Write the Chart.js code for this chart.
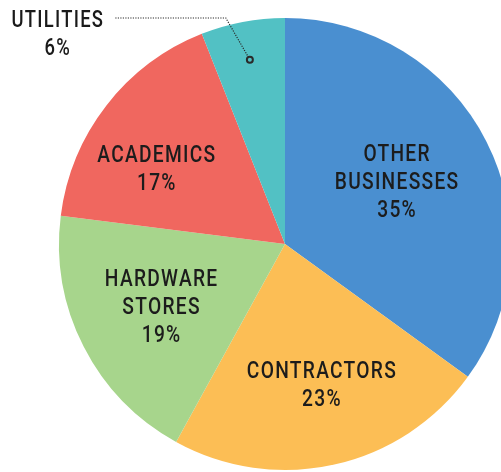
<!DOCTYPE html>
<html>
<head>
<meta charset="utf-8">
<script src="https://cdn.jsdelivr.net/npm/chart.js@4.4.1/dist/chart.umd.min.js"></script>
<style>
  html, body { margin: 0; padding: 0; background: #ffffff; overflow: hidden; }
  #wrap { position: relative; width: 530px; height: 472px; }
</style>
</head>
<body>
<div id="wrap"><canvas id="pie"></canvas></div>
<script>
// Customer segments and their share of sales (percent)
const segments = ['OTHER BUSINESSES', 'CONTRACTORS', 'HARDWARE STORES', 'ACADEMICS', 'UTILITIES'];
const shares = [35, 23, 19, 17, 6];
const labelLines = [['OTHER', 'BUSINESSES'], ['CONTRACTORS'], ['HARDWARE', 'STORES'], ['ACADEMICS'], ['UTILITIES']];
const sliceColors = ['#4a8fd0', '#fcbe55', '#a7d58c', '#f0675f', '#52c1c4'];

// Label placement along each slice: fraction of radius and angle nudge (degrees)
const labelRadius = [0.57, 0.64, 0.61, 0.66, 0];
const labelTurn = [-2.5, -2.2, 0.5, -7, 0];

const LINE_H = 28;

function drawLabel(ctx, lines, cx, cy, color, size) {
  ctx.save();
  ctx.font = '500 ' + size + 'px Roboto, "Liberation Sans", sans-serif';
  ctx.letterSpacing = '1.6px';
  ctx.fillStyle = color;
  ctx.textAlign = 'center';
  ctx.textBaseline = 'alphabetic';
  const capHalf = size * 0.711 / 2;
  const top = cy - (lines.length - 1) * LINE_H / 2;
  lines.forEach((t, i) => {
    ctx.save();
    ctx.translate(cx, top + i * LINE_H + capHalf);
    ctx.scale(0.8, 1);
    ctx.fillText(t, 0, 0);
    ctx.restore();
  });
  ctx.restore();
}

const sliceLabels = {
  id: 'sliceLabels',
  afterDatasetsDraw(chart) {
    const ctx = chart.ctx;
    const arcs = chart.getDatasetMeta(0).data;
    arcs.forEach((arc, i) => {
      const { x, y, startAngle, endAngle, outerRadius } = arc.getProps(['x', 'y', 'startAngle', 'endAngle', 'outerRadius'], true);
      const mid = (startAngle + endAngle) / 2;
      const pct = shares[i] + '%';
      if (i === segments.length - 1) {
        // Small slice: callout with a dotted leader line outside the pie
        const px = x + Math.cos(mid) * outerRadius * 0.83;
        const py = y + Math.sin(mid) * outerRadius * 0.83;
        const bendY = y - outerRadius;
        const bendX = px - 24;
        const endX = bendX - 111;
        ctx.save();
        ctx.strokeStyle = '#2a2a2a';
        ctx.lineWidth = 1.2;
        ctx.setLineDash([1.2, 1.3]);
        ctx.beginPath();
        ctx.moveTo(px, py);
        ctx.lineTo(bendX, bendY);
        ctx.lineTo(endX, bendY);
        ctx.stroke();
        ctx.setLineDash([]);
        ctx.lineWidth = 2;
        ctx.fillStyle = sliceColors[i];
        ctx.beginPath();
        ctx.arc(px, py, 3, 0, Math.PI * 2);
        ctx.fill();
        ctx.stroke();
        ctx.restore();
        drawLabel(ctx, labelLines[i].concat([pct]), endX - 57, bendY + 15, '#1a1a1a', 23);
        return;
      }
      const a = mid + labelTurn[i] * Math.PI / 180;
      const r = outerRadius * labelRadius[i];
      drawLabel(ctx, labelLines[i].concat([pct]), x + Math.cos(a) * r, y + Math.sin(a) * r, '#1c1c1c', 24);
    });
  }
};

new Chart(document.getElementById('pie'), {
  type: 'pie',
  data: {
    labels: segments,
    datasets: [{
      data: shares,
      backgroundColor: sliceColors,
      borderWidth: 0,
      hoverOffset: 0
    }]
  },
  options: {
    responsive: true,
    maintainAspectRatio: false,
    animation: false,
    layout: { padding: { left: 59, right: 19, top: 18, bottom: 2 } },
    plugins: {
      legend: { display: false },
      tooltip: { enabled: false }
    },
    events: []
  },
  plugins: [sliceLabels]
});
</script>
</body>
</html>
